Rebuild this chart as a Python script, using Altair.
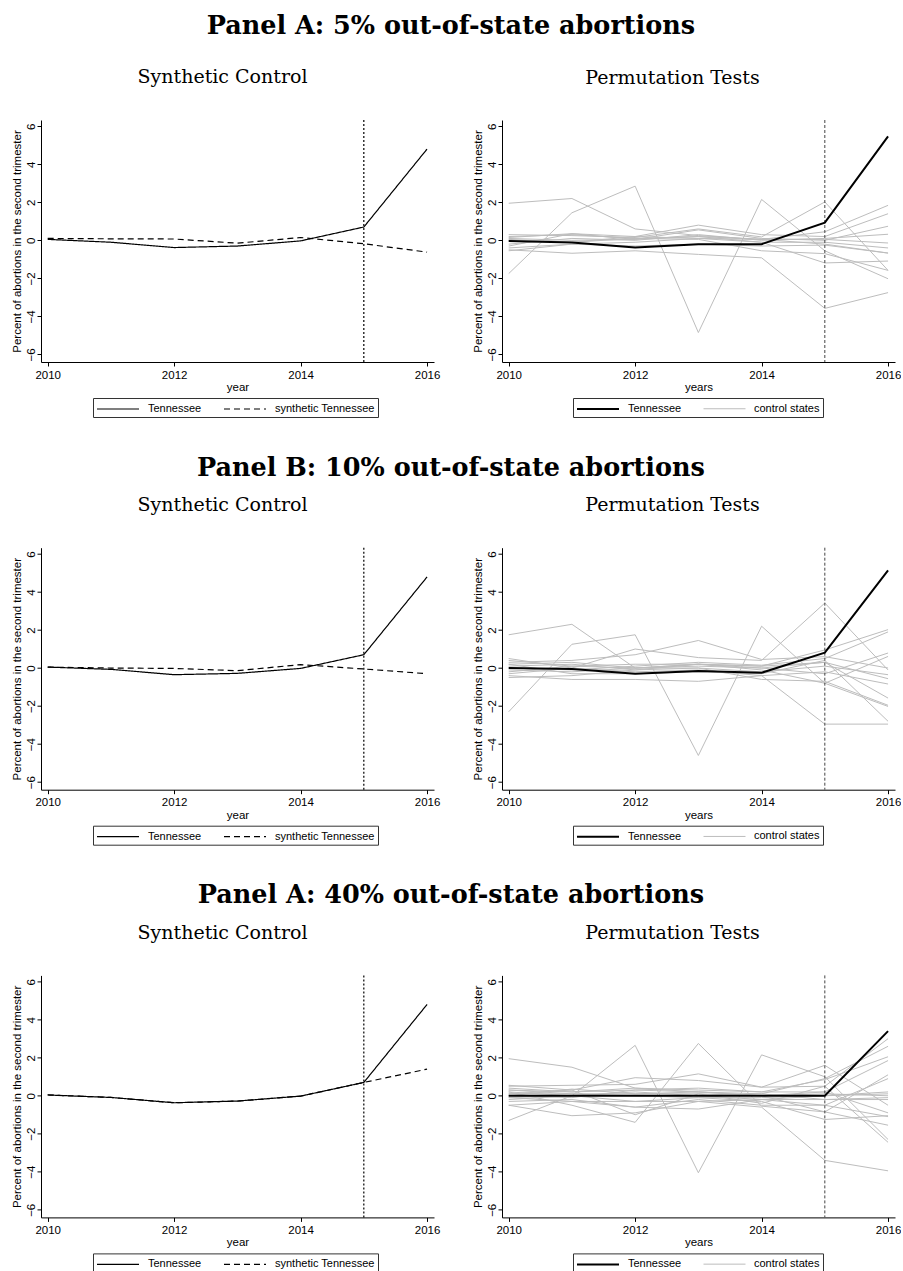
import altair as alt
import pandas as pd

years = [2010, 2011, 2012, 2013, 2014, 2015, 2016]
treatment_year = 2015
x_ticks = [2010, 2012, 2014, 2016]
y_ticks = [-6, -4, -2, 0, 2, 4, 6]

row_titles = [
    "Panel A: 5% out-of-state abortions",
    "Panel B: 10% out-of-state abortions",
    "Panel A: 40% out-of-state abortions",
]

# Synthetic control: Tennessee against its synthetic counterpart
tn_sc_5 = [0.05, -0.10, -0.38, -0.30, -0.03, 0.70, 4.80]
synth_sc_5 = [0.10, 0.08, 0.07, -0.15, 0.15, -0.18, -0.62]
tn_sc_10 = [0.05, -0.07, -0.35, -0.28, -0.02, 0.70, 4.79]
synth_sc_10 = [0.05, 0.00, -0.02, -0.14, 0.18, -0.05, -0.30]
tn_sc_40 = [0.04, -0.09, -0.37, -0.28, -0.02, 0.70, 4.80]
synth_sc_40 = [0.04, -0.09, -0.37, -0.28, -0.02, 0.70, 1.40]

# Permutation tests: Tennessee gap and placebo gaps of control states
tn_perm_5 = [-0.04, -0.12, -0.38, -0.20, -0.20, 0.93, 5.47]
controls_5 = [
    [1.95, 2.20, 0.60, 0.25, 0.05, -0.20, -0.67],
    [-1.75, 1.45, 2.85, -4.85, 2.15, -0.55, -2.02],
    [0.30, 0.25, 0.15, 0.60, 0.18, 2.02, -1.58],
    [-0.50, -0.68, -0.55, -0.74, -0.92, -3.58, -2.75],
    [0.20, 0.30, 0.10, 0.20, 0.05, 0.45, 1.84],
    [-0.30, 0.35, 0.20, 0.80, 0.30, 0.20, 1.40],
    [0.10, 0.00, 0.05, 0.55, 0.10, 0.00, 0.74],
    [-0.20, 0.10, 0.00, 0.30, 0.00, 0.10, 0.32],
    [0.00, -0.10, 0.20, 0.10, 0.05, 0.05, -0.14],
    [-0.40, -0.20, -0.10, 0.10, -0.10, -0.10, -0.40],
    [-0.55, -0.20, -0.30, -0.20, -0.30, -0.25, -0.67],
    [0.15, 0.35, 0.05, 0.20, -0.10, -1.19, -1.09],
    [0.05, -0.10, 0.10, 0.05, -0.55, -0.70, -1.58],
]

tn_perm_10 = [0.00, -0.05, -0.30, -0.15, -0.25, 0.81, 5.14]
controls_10 = [
    [1.75, 2.30, 0.00, 0.20, 0.10, 0.30, -0.56],
    [-2.30, 1.25, 1.75, -4.60, 2.20, -0.80, -2.02],
    [0.50, 0.00, 1.00, 0.55, 0.40, 3.42, -0.10],
    [0.30, 0.40, 0.70, 1.45, 0.45, 0.60, 0.00],
    [-0.40, -0.60, -0.60, -0.70, -0.40, -2.95, -2.95],
    [0.20, 0.30, 0.00, 0.20, 0.10, 0.95, 2.02],
    [0.00, -0.10, 0.10, 0.30, 0.15, 0.50, 1.90],
    [-0.20, 0.10, 0.00, 0.10, 0.00, -0.30, 0.79],
    [-0.50, -0.40, -0.10, 0.20, -0.10, -0.80, 0.61],
    [0.10, 0.20, -0.10, 0.00, -0.20, 0.10, -0.35],
    [-0.30, 0.00, -0.20, -0.10, -0.40, -0.20, -0.84],
    [0.40, 0.10, 0.20, 0.20, 0.00, 0.30, -1.58],
    [-0.10, -0.20, 0.00, 0.00, -0.60, -0.70, -1.96],
    [0.20, -0.30, -0.30, -0.20, -0.30, 0.40, -2.80],
]

tn_perm_40 = [0.00, 0.00, 0.00, 0.00, 0.00, 0.00, 3.40]
controls_40 = [
    [1.95, 1.50, 0.40, 0.20, 0.10, 0.90, 2.60],
    [-1.30, 0.00, 2.65, -4.05, 2.15, 1.00, -2.30],
    [0.20, -0.50, -1.40, 2.75, -0.55, -0.85, 1.10],
    [-0.50, -1.05, -0.90, -0.30, -0.60, -3.40, -3.95],
    [0.55, 0.30, 0.95, 0.80, 0.45, 1.60, -0.50],
    [0.50, 0.55, 0.60, 1.15, 0.45, 0.50, 3.00],
    [0.30, 0.20, 0.30, 0.40, 0.20, 0.85, 2.05],
    [0.00, 0.35, 0.10, 0.20, 0.00, 0.20, 1.85],
    [-0.10, -0.30, -0.30, -0.30, -0.20, -0.50, 0.90],
    [0.20, 0.00, 0.00, 0.00, -0.20, 0.00, 0.20],
    [-0.30, -0.20, -0.60, -0.70, -0.20, -0.20, -0.10],
    [0.10, 0.10, 0.10, 0.10, 0.00, 0.10, 0.00],
    [-0.20, 0.00, -0.30, -0.10, -0.30, -1.25, -1.05],
    [0.40, 0.20, 0.40, 0.30, 0.20, 0.20, -0.90],
    [-0.50, -0.30, -0.60, -0.20, -0.50, -0.50, -1.10],
    [0.00, -0.10, 0.30, 0.20, 0.00, -0.85, -1.55],
    [0.10, 0.30, -1.00, 0.10, -0.40, 0.50, -2.45],
    [0.30, 0.10, 0.00, -0.10, -0.10, 0.00, 0.10],
    [-0.10, 0.00, 0.20, 0.00, 0.10, -0.20, -0.20],
]

W, H = 393, 242
SANS = "Liberation Sans"
SERIF = "DejaVu Serif"
Y_TITLE = "Percent of abortions in the second trimester"
# long horizontal key line drawn inside a small symbol box
KEY_LINE = "M-1,0H5"


def x_enc(title):
    return alt.X(
        "year:Q",
        scale=alt.Scale(domain=[2009.894, 2016.11], nice=False, zero=False),
        axis=alt.Axis(values=x_ticks, format="d", title=title, titlePadding=1),
    )


def y_enc():
    return alt.Y(
        "value:Q",
        scale=alt.Scale(domain=[-6.4, 6.33], nice=False, zero=False),
        axis=alt.Axis(values=y_ticks, title=Y_TITLE, labelAngle=270,
                      labelAlign="center", labelBaseline="alphabetic"),
    )


def legend_box(x, y):
    return dict(
        orient="none", legendX=x, legendY=y, direction="horizontal", title=None,
        symbolType=KEY_LINE, symbolSize=196, labelFont=SANS, labelFontSize=11,
        labelColor="black", labelOffset=36, columnPadding=19, padding=3,
        strokeColor="#333333", fillColor="white",
    )


def sub_title(text, dx):
    return alt.TitleParams(text, font=SERIF, fontSize=19, fontWeight="normal",
                           anchor="middle", dx=dx, offset=32)


def synth_panel(tn, synth):
    df = pd.DataFrame({
        "year": years + years,
        "value": tn + synth,
        "series": ["Tennessee"] * len(years) + ["synthetic Tennessee"] * len(years),
    })
    lines = alt.Chart(df).mark_line(color="black", strokeWidth=1.2).encode(
        x=x_enc("year"),
        y=y_enc(),
        strokeDash=alt.StrokeDash(
            "series:N",
            scale=alt.Scale(domain=["Tennessee", "synthetic Tennessee"], range=[[1, 0], [6, 4]]),
            legend=alt.Legend(symbolStrokeColor="black", symbolStrokeWidth=1.2,
                              **legend_box(52, 278)),
        ),
    )
    rule = alt.Chart(pd.DataFrame({"year": [treatment_year]})).mark_rule(
        color="black", strokeWidth=1.2, strokeDash=[2, 2]
    ).encode(x="year:Q")
    return alt.layer(rule, lines).properties(
        width=W, height=H, title=sub_title("Synthetic Control", -15)
    )


def perm_panel(tn, controls):
    rows = []
    for i, series in enumerate(controls):
        for yr, v in zip(years, series):
            rows.append({"year": yr, "value": v, "state": f"s{i}", "group": "control states"})
    for yr, v in zip(years, tn):
        rows.append({"year": yr, "value": v, "state": "TN", "group": "Tennessee"})
    df = pd.DataFrame(rows)
    dom = ["Tennessee", "control states"]
    color = alt.Color("group:N", scale=alt.Scale(domain=dom, range=["black", "#bdbdbd"]),
                      legend=alt.Legend(**legend_box(71, 278)))
    width = alt.StrokeWidth("group:N", scale=alt.Scale(domain=dom, range=[2.0, 1.0]),
                            legend=alt.Legend(**legend_box(71, 278)))
    base = alt.Chart(df).mark_line().encode(
        x=x_enc("years"), y=y_enc(), color=color, strokeWidth=width, detail="state:N"
    )
    gray = base.transform_filter(alt.datum.group == "control states")
    black = base.transform_filter(alt.datum.group == "Tennessee")
    rule = alt.Chart(pd.DataFrame({"year": [treatment_year]})).mark_rule(
        color="#444444", strokeWidth=1, strokeDash=[3, 2]
    ).encode(x="year:Q")
    return alt.layer(gray, rule, black).properties(
        width=W, height=H, title=sub_title("Permutation Tests", -26)
    )


def independent(c):
    return c.resolve_scale(
        color="independent", strokeDash="independent", strokeWidth="independent"
    ).resolve_legend(
        color="independent", strokeDash="independent", strokeWidth="independent"
    )


def row(title, left, right, offset):
    return independent(alt.hconcat(
        left, right, spacing=68, bounds="flush",
        title=alt.TitleParams(title, font=SERIF, fontSize=25.5, fontWeight="bold",
                              anchor="middle", dx=-5, offset=offset),
    ))


chart = independent(alt.vconcat(
    row(row_titles[0], synth_panel(tn_sc_5, synth_sc_5),
        perm_panel(tn_perm_5, controls_5), 29),
    row(row_titles[1], synth_panel(tn_sc_10, synth_sc_10),
        perm_panel(tn_perm_10, controls_10), 15),
    row(row_titles[2], synth_panel(tn_sc_40, synth_sc_40),
        perm_panel(tn_perm_40, controls_40), 15),
    spacing=36.7,
)).properties(
    padding={"left": 11, "top": 13, "right": 0, "bottom": 0},
    background="white",
).configure_view(strokeWidth=0).configure_axis(
    grid=False, domainColor="black", domainWidth=1, tickColor="black", tickSize=4,
    tickWidth=1, labelFont=SANS, labelFontSize=11.5, labelColor="black", labelPadding=3,
    titleFont=SANS, titleFontSize=11.5, titleFontWeight="normal", titleColor="black",
    titlePadding=3,
).configure_title(color="black")

chart.save("out.html", embed_options={"renderer": "svg", "actions": False})
